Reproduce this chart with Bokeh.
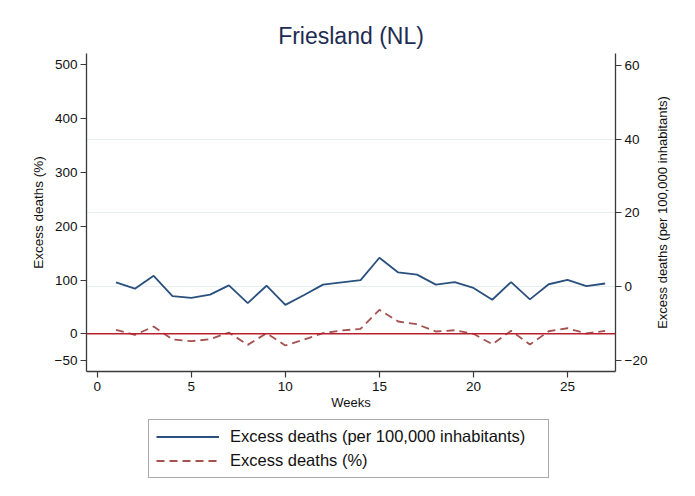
from bokeh.plotting import figure
from bokeh.layouts import column, row
from bokeh.models import (Range1d, LinearAxis, FixedTicker, Span, Legend, LegendItem,
                          Grid, ColumnDataSource, Label)
from bokeh.embed import file_html
from bokeh.resources import INLINE

# ---- data ----
weeks = list(range(1, 28))
excess_per100k = [1.1, -0.6, 2.9, -2.6, -3.1, -2.2, 0.3, -4.5, 0.2, -5.0,
                  -2.3, 0.5, 1.1, 1.7, 7.8, 3.8, 3.2, 0.5, 1.2, -0.4,
                  -3.6, 1.2, -3.5, 0.6, 1.8, 0.1, 0.8]
excess_pct = [7.4, -2.0, 13.6, -10.6, -13.7, -10.0, 2.4, -20.5, 1.2, -21.7,
              -10.6, 1.2, 6.2, 9.3, 44.6, 22.9, 17.8, 4.3, 6.7, 0.0,
              -19.3, 5.6, -19.9, 4.8, 10.4, 0.6, 5.6]
x_ticks = [0, 5, 10, 15, 20, 25]
left_ticks = [-50, 0, 100, 200, 300, 400, 500]
right_ticks = [-20, 0, 20, 40, 60]
grid_ticks = [0, 20, 40]
title_text = "Friesland (NL)"
label_per100k = "Excess deaths (per 100,000 inhabitants)"
label_pct = "Excess deaths (%)"

FONT = "Liberation Sans"
BLUE = "#2a507e"
DRED = "#a4514f"
ZRED = "#b8202e"
AX = "#3a3a3a"

src = ColumnDataSource(dict(week=weeks, per100k=excess_per100k, pct=excess_pct))

W_MAIN = 650
W_RIGHT = 44
H_MAIN = 419
H_LEG = 76
B_LEFT, B_RIGHT, B_TOP, B_BOTTOM = 86, 33, 53, 48

p = figure(width=W_MAIN, height=H_MAIN, output_backend="svg", toolbar_location=None,
           x_range=Range1d(-0.57, 27.55), y_range=Range1d(-70, 521),
           min_border_left=B_LEFT, min_border_right=B_RIGHT, min_border_top=B_TOP,
           min_border_bottom=B_BOTTOM, title=title_text)
p.outline_line_color = None
p.xgrid.visible = False
p.ygrid.visible = False
p.background_fill_color = "white"
p.border_fill_color = "white"
p.extra_y_ranges = {"right": Range1d(-23.07, 63.2)}

p.title.align = "center"
p.title.text_font = FONT
p.title.text_font_size = "23px"
p.title.text_font_style = "normal"
p.title.text_color = "#1e2c52"

g = Grid(dimension=1, ticker=FixedTicker(ticks=grid_ticks), y_range_name="right",
         grid_line_color="#e6eff0", grid_line_width=1.2)
p.add_layout(g)

def style_axis(ax):
    ax.axis_line_color = AX
    ax.axis_line_width = 1.3
    ax.major_tick_line_color = AX
    ax.major_tick_line_width = 1.2
    ax.major_tick_out = 6
    ax.major_tick_in = 0
    ax.minor_tick_line_color = None
    ax.major_label_text_font = FONT
    ax.major_label_text_font_size = "13.5px"
    ax.major_label_text_color = "#111111"
    ax.axis_label_text_font = FONT
    ax.axis_label_text_font_size = "13px"
    ax.axis_label_text_font_style = "normal"
    ax.axis_label_text_color = "#111111"

xa = p.xaxis[0]
xa.ticker = FixedTicker(ticks=x_ticks)
xa.axis_label = "Weeks"
style_axis(xa)
xa.major_label_standoff = 4
xa.axis_label_standoff = 1

ya = p.yaxis[0]
ya.ticker = FixedTicker(ticks=left_ticks)
ya.axis_label = label_pct
style_axis(ya)
ya.major_label_standoff = 3
ya.axis_label_standoff = 6
ya.axis_label_text_font_size = "13.5px"

ra = LinearAxis(y_range_name="right", ticker=FixedTicker(ticks=right_ticks))
style_axis(ra)
ra.major_label_standoff = 3
ra.major_label_orientation = "horizontal"
p.add_layout(ra, "right")

p.add_layout(Span(location=0, dimension="width", line_color=ZRED, line_width=1.5))

p.line("week", "per100k", source=src, y_range_name="right",
       line_color=BLUE, line_width=1.8)
p.line("week", "pct", source=src, line_color=DRED, line_width=1.8,
       line_dash="8 5")

# ---- right-axis title panel (reads bottom to top) ----
pr = figure(width=W_RIGHT, height=H_MAIN, output_backend="svg", toolbar_location=None,
            x_axis_type=None, y_axis_type=None,
            min_border_left=0, min_border_right=0, min_border_top=B_TOP,
            min_border_bottom=B_BOTTOM, x_range=Range1d(0, 1), y_range=Range1d(0, 1))
pr.outline_line_color = None
pr.xgrid.visible = False
pr.ygrid.visible = False
pr.border_fill_color = "white"
pr.add_layout(Label(x=11.7, y=159, x_units="screen", y_units="screen",
                    text=label_per100k, angle=90, angle_units="deg",
                    text_align="center", text_baseline="middle",
                    text_font=FONT, text_font_size="13px", text_color="#111111"))

# ---- legend panel (separate figure below the chart) ----
pl = figure(width=W_MAIN, height=H_LEG, output_backend="svg", toolbar_location=None,
            x_axis_type=None, y_axis_type=None,
            min_border_left=B_LEFT, min_border_right=B_RIGHT, min_border_top=0,
            min_border_bottom=0, x_range=Range1d(0, 1), y_range=Range1d(0, 1))
pl.outline_line_color = None
pl.xgrid.visible = False
pl.ygrid.visible = False
pl.border_fill_color = "white"
lr1 = pl.line("week", "per100k", source=src, line_color=BLUE, line_width=1.8,
              visible=False)
lr2 = pl.line("week", "pct", source=src, line_color=DRED, line_width=1.8,
              line_dash="8 5", visible=False)

legend = Legend(items=[LegendItem(label=label_per100k, renderers=[lr1]),
                       LegendItem(label=label_pct, renderers=[lr2])],
                location=(62, 17), orientation="vertical",
                label_text_font=FONT, label_text_font_size="16.5px",
                label_text_color="#111111",
                glyph_width=63, glyph_height=19, label_height=19,
                label_standoff=11, label_width=311, spacing=5, padding=7, margin=0,
                border_line_color="#555555", border_line_width=1.2,
                background_fill_color="white", background_fill_alpha=1)
pl.add_layout(legend, "center")

layout = column(row(p, pr, spacing=0), pl, spacing=0)
open("out.html", "w").write(file_html(layout, INLINE))
